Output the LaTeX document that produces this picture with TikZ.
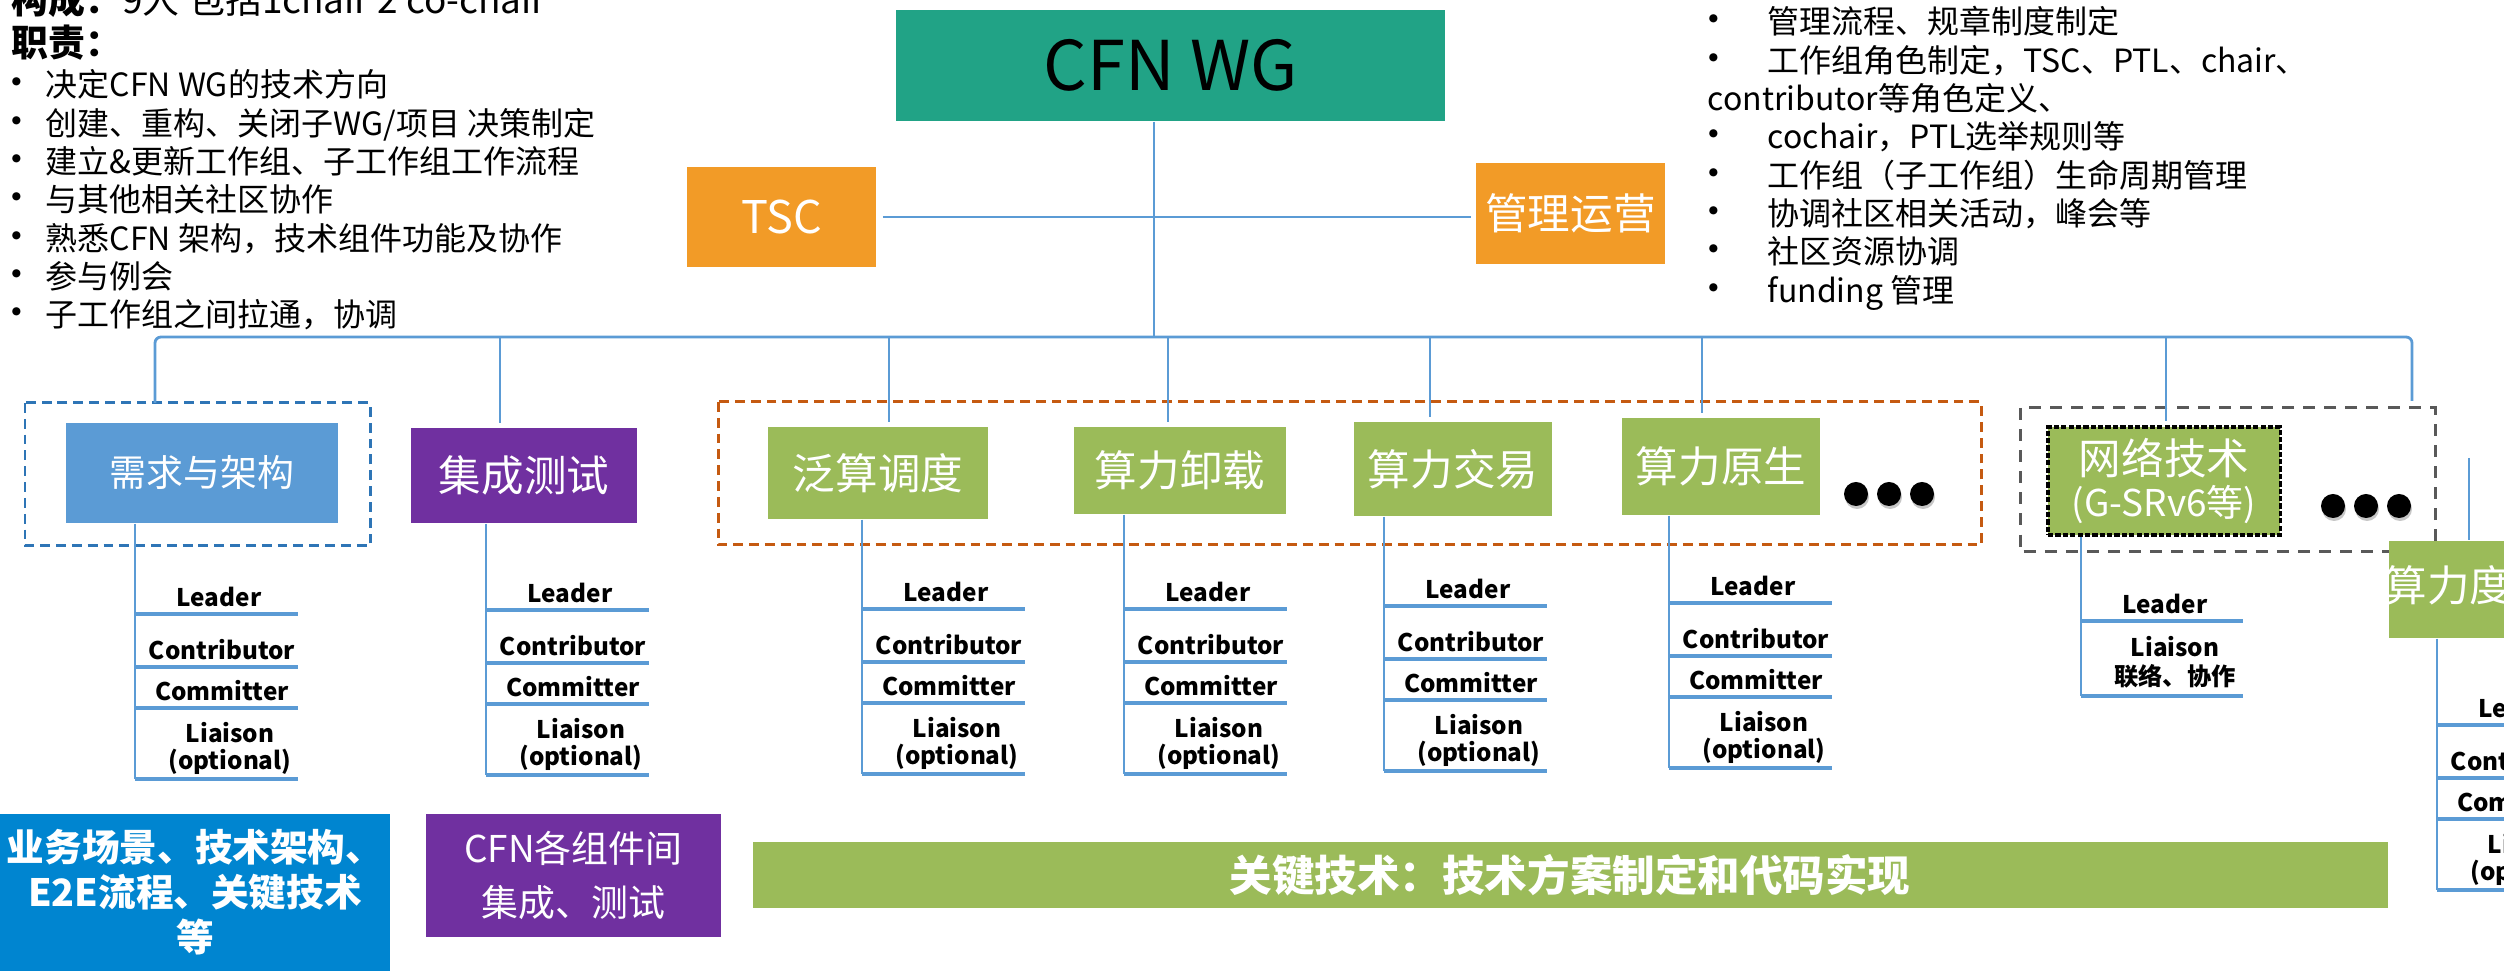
\documentclass[tikz,border=0pt]{standalone}
\usepackage{fontspec}
\setmainfont{Noto Sans CJK SC}

\definecolor{wgteal}{HTML}{21A386}
\definecolor{tscorange}{HTML}{F29B27}
\definecolor{reqblue}{HTML}{5B9BD5}
\definecolor{testpurple}{HTML}{7030A0}
\definecolor{techgreen}{HTML}{9BBB59}
\definecolor{scenblue}{HTML}{0085D0}
\definecolor{linkblue}{HTML}{5B9BD5}
\definecolor{grporange}{HTML}{C55A11}
\definecolor{grpgray}{HTML}{595959}
\definecolor{grpblue}{HTML}{2E75B6}

\newcommand{\dutybul}{\hbox to 0.34cm{\hbox to 0.1cm{\hss{\fontsize{11}{11}\selectfont •}\hss}\hss}}
\newcommand{\opsbul}{\hbox to 0.60cm{\hbox to 0.12cm{\hss{\fontsize{11}{11}\selectfont •}\hss}\hss}}

\tikzset{
  box/.style={inner sep=0pt, text=white, align=center},
  conn/.style={draw=linkblue, line width=0.55pt},
  roleline/.style={draw=linkblue, line width=0.9pt},
  role/.style={inner sep=0pt, font=\fontsize{6.9}{8}\selectfont\bfseries},
  note/.style={anchor=base west, inner sep=0pt, font=\fontsize{9.1}{11}\selectfont},
  grp/.style={line width=0.85pt, dash pattern=on 2.8pt off 1.7pt},
}

\begin{document}
\begin{tikzpicture}[x=0.01cm, y=-0.01cm]
\useasboundingbox (0,0) rectangle (2504,971);
\clip (0,0) rectangle (2504,971);

% top of the tree
\node (wg) [box, fill=wgteal, text=black, minimum width=5.49cm, minimum height=1.11cm, font=\fontsize{19.5}{22}\selectfont] at (1170.5,65.5) {CFN WG};
\node (tsc) [box, fill=tscorange, minimum width=1.89cm, minimum height=1cm, font=\fontsize{12.8}{14}\selectfont] at (781.5,217) {TSC};
\node (ops) [box, fill=tscorange, minimum width=1.89cm, minimum height=1.01cm, font=\fontsize{12.1}{14}\selectfont] at (1570.5,213.5) {管理运营};

% left notes
\node (comp) [note, font=\fontsize{10.5}{12}\selectfont] at (11,14) {\textbf{构成：}9人 包括1chair 2 co-chair};
\node (duty) [note, font=\fontsize{10.5}{12}\selectfont\bfseries] at (11,57) {职责：};
\foreach \t [count=\i] in {{决定CFN WG的技术方向},{创建、重构、关闭子WG/项目 决策制定},{建立\&更新工作组、子工作组工作流程},{与其他相关社区协作},{熟悉CFN 架构，技术组件功能及协作},{参与例会},{子工作组之间拉通，协调}}
  \node (duty-\i) [note] at (11,{97+38.33*(\i-1)}) {\dutybul\t};

% right notes
\foreach \t [count=\i] in {{\opsbul 管理流程、规章制度制定},{\opsbul 工作组角色制定，TSC、PTL、chair、},{contributor等角色定义、},{\opsbul cochair，PTL选举规则等},{\opsbul 工作组（子工作组）生命周期管理},{\opsbul 协调社区相关活动，峰会等},{\opsbul 社区资源协调},{\opsbul funding 管理}}
  \node (ops-\i) [note] at (1707,{34+38.3*(\i-1)}) {\t};

% groups
\draw [grp, draw=grpblue] (25,403) rectangle (370,546);
\draw [grp, draw=grporange] (718,402) rectangle (1981,545);
\draw [grp, draw=grpgray, dash pattern=on 3.4pt off 2.6pt] (2020,408) rectangle (2435,552);

% sub groups
\node (req) [box, fill=reqblue, minimum width=2.72cm, minimum height=1cm, font=\fontsize{10.5}{12}\selectfont] at (202,473) {需求与架构};
\node (test) [box, fill=testpurple, minimum width=2.26cm, minimum height=0.95cm, font=\fontsize{12.1}{14}\selectfont] at (524,475.5) {集成测试};
\node (sched) [box, fill=techgreen, minimum width=2.2cm, minimum height=0.92cm, font=\fontsize{12.1}{14}\selectfont] at (878,473) {泛算调度};
\node (ofld) [box, fill=techgreen, minimum width=2.12cm, minimum height=0.87cm, font=\fontsize{12.1}{14}\selectfont] at (1180,470.5) {算力卸载};
\node (trade) [box, fill=techgreen, minimum width=1.98cm, minimum height=0.94cm, font=\fontsize{12.1}{14}\selectfont] at (1453,469) {算力交易};
\node (native) [box, fill=techgreen, minimum width=1.98cm, minimum height=0.97cm, font=\fontsize{12.1}{14}\selectfont] at (1721,466.5) {算力原生};
\node (net) [box, fill=techgreen, draw=black, line width=0.9pt, dash pattern=on 1.5pt off 0.6pt, minimum width=2.32cm, minimum height=1.08cm, font=\fontsize{12.1}{12.2}\selectfont] at (2164,481) {网络技术\\{\fontsize{10.5}{12.2}\selectfont (G-SRv6等)}};
\node (pwr) [box, fill=techgreen, minimum width=2.31cm, minimum height=0.97cm] at (2504.5,589.5) {};
\begin{scope}
\clip (pwr.south west) rectangle (pwr.north east);
\node (pwr-txt) [anchor=west, inner sep=0pt, text=white, font=\fontsize{12.1}{14}\selectfont] at (2384,585) {算力度};
\end{scope}

% more to come
\foreach \x in {1856,1889,1922} {
  \fill [black!22] (\x+1,497) circle (0.12cm);
  \fill [black] (\x,494) circle (0.12cm);
}
\foreach \x in {2333,2366,2399} {
  \fill [black!22] (\x+1,509) circle (0.12cm);
  \fill [black] (\x,506) circle (0.12cm);
}

% tree lines
\coordinate (hub) at (1154,337);
\coordinate (busL) at (155,403);
\coordinate (busR) at (2412,401);
\draw [conn] (hub |- wg.south) -- (hub);
\draw [conn, shorten <=0.06cm, shorten >=0.04cm] (tsc.east) -- (tsc.east -| ops.west);
\draw [conn, line width=0.8pt, rounded corners=0.06cm] (busL) |- (hub) -| (busR);
\foreach \n/\x in {test/500, sched/889, ofld/1168, trade/1430, native/1702, net/2166} {
  \coordinate (drop-\n) at (\x,337);
  \draw [conn, shorten >=0.04cm] (drop-\n) -- (drop-\n |- \n.north);
}
\coordinate (pwr-in) at (2469,458);
\draw [conn] (pwr-in) -- (pwr-in |- pwr.north);

% roles
\foreach \n/\xv/\yl in {req/135/614, test/486/610, sched/862/609, ofld/1124/609, trade/1384/606, native/1669/603, pwr/2437/725} {
  \coordinate (\n-end) at (\xv,\yl+165);
  \draw [conn] (\n-end |- \n.south) -- (\n-end);
  \foreach \dy in {0,53,94,165}
    \draw [roleline] (\xv,\yl+\dy) -- (\xv+163,\yl+\dy);
  \node (\n-ldr) [role] at (\xv+84,\yl-17) {Leader};
  \node (\n-ctb) [role] at (\xv+87,\yl+36) {Contributor};
  \node (\n-cmt) [role] at (\xv+87,\yl+77) {Committer};
  \node (\n-lia) [role] at (\xv+95,\yl+119) {Liaison};
  \node (\n-opt) [role] at (\xv+95,\yl+148) {(optional)};
}
\coordinate (net-end) at (2081,696);
\draw [conn] (net-end |- net.south) -- (net-end);
\draw [roleline] (2081,621) -- (2243,621);
\draw [roleline] (2081,696) -- (2243,696);
\node (net-ldr) [role] at (2165,604) {Leader};
\node (net-lia) [role] at (2175,647) {Liaison};
\node (net-cn) [role] at (2175,676) {联络、协作};

% bottom notes
\node (scen) [box, fill=scenblue, minimum width=3.9cm, minimum height=1.57cm, font=\fontsize{10.7}{12.8}\selectfont\bfseries] at (195,892.5) {业务场景、技术架构、\\E2E流程、关键技术\\等};
\node (integ) [box, fill=testpurple, minimum width=2.95cm, minimum height=1.23cm, font=\fontsize{10.5}{15.6}\selectfont] at (573.5,875.5) {CFN各组件间\\集成、测试};
\node (keytech) [box, fill=techgreen, minimum width=16.34cm, minimum height=0.66cm, font=\fontsize{12.1}{14}\selectfont\bfseries] at (1570,875) {关键技术：技术方案制定和代码实现};
\end{tikzpicture}
\end{document}
